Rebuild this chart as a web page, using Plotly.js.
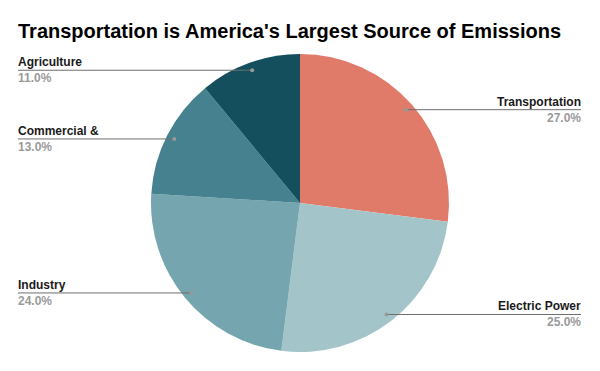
<!DOCTYPE html>
<html>
<head>
<meta charset="utf-8">
<script src="https://cdn.plot.ly/plotly-3.0.1.min.js"></script>
<style>html,body{margin:0;padding:0;background:#fff;}#chart{width:600px;height:371px;}</style>
</head>
<body>
<div id="chart"></div>
<script>
const categories = ["Transportation", "Electric Power", "Industry", "Commercial &", "Agriculture"];
const values = [27, 25, 24, 13, 11];
const colors = ["#E07B6A", "#A3C4C9", "#75A5AE", "#45818E", "#134F5C"];
const chartTitle = "Transportation is America's Largest Source of Emissions";

const W = 600, H = 371;
const mT = 54, mB = 19, mL = 0, mR = 0;
const plotH = H - mT - mB;
const R = plotH / 2;
const cx = mL + (W - mL - mR) / 2, cy = mT + R;
const dotR = R * 0.947;
const leftX = 18, rightX = 581;
const px = x => (x - mL) / (W - mL - mR);
const py = y => (H - mB - y) / plotH;

const total = values.reduce((a, b) => a + b, 0);
const shapes = [], annotations = [];
const lblFont = 'Liberation Sans, Arial, sans-serif';
let cum = 0;
values.forEach((v, i) => {
  const mid = (cum + v / 2) / total * 2 * Math.PI;
  cum += v;
  const dx = cx + dotR * Math.sin(mid);
  const dy = cy - dotR * Math.cos(mid);
  const right = Math.sin(mid) > 0;
  const ex = right ? rightX : leftX;
  shapes.push({type: 'line', xref: 'paper', yref: 'paper', x0: px(dx), y0: py(dy), x1: px(ex), y1: py(dy), line: {color: '#6f6f6f', width: 1}});
  shapes.push({type: 'circle', xref: 'paper', yref: 'paper', x0: px(dx - 2), x1: px(dx + 2), y0: py(dy + 2), y1: py(dy - 2), fillcolor: '#999', line: {width: 0}});
  annotations.push({xref: 'paper', yref: 'paper', x: px(ex), y: py(dy - 1), xanchor: right ? 'right' : 'left', yanchor: 'bottom', showarrow: false, borderpad: 0, borderwidth: 0, text: '<b>' + categories[i] + '</b>', font: {family: lblFont, size: 12, color: '#1a1a1a'}});
  annotations.push({xref: 'paper', yref: 'paper', x: px(ex), y: py(dy + 1), xanchor: right ? 'right' : 'left', yanchor: 'top', showarrow: false, borderpad: 0, borderwidth: 0, text: '<b>' + (v / total * 100).toFixed(1) + '%</b>', font: {family: lblFont, size: 12, color: '#9a9a9a'}});
});

const data = [{
  type: 'pie',
  labels: categories,
  values: values,
  sort: false,
  direction: 'clockwise',
  rotation: 0,
  textinfo: 'none',
  hoverinfo: 'label+percent',
  marker: {colors: colors, line: {color: '#ffffff', width: 0}},
  showlegend: false
}];

const layout = {
  width: W, height: H,
  margin: {l: mL, r: mR, t: mT, b: mB, pad: 0},
  paper_bgcolor: '#ffffff',
  title: {text: '<b>' + chartTitle + '</b>', x: 18 / W, xanchor: 'left', xref: 'container', y: 1 - 31 / H, yref: 'container', yanchor: 'middle', font: {family: 'Liberation Sans, Arial, sans-serif', size: 20, color: '#000'}},
  shapes: shapes,
  annotations: annotations,
  showlegend: false
};
Plotly.newPlot('chart', data, layout, {displayModeBar: false, staticPlot: true});
</script>
</body>
</html>
